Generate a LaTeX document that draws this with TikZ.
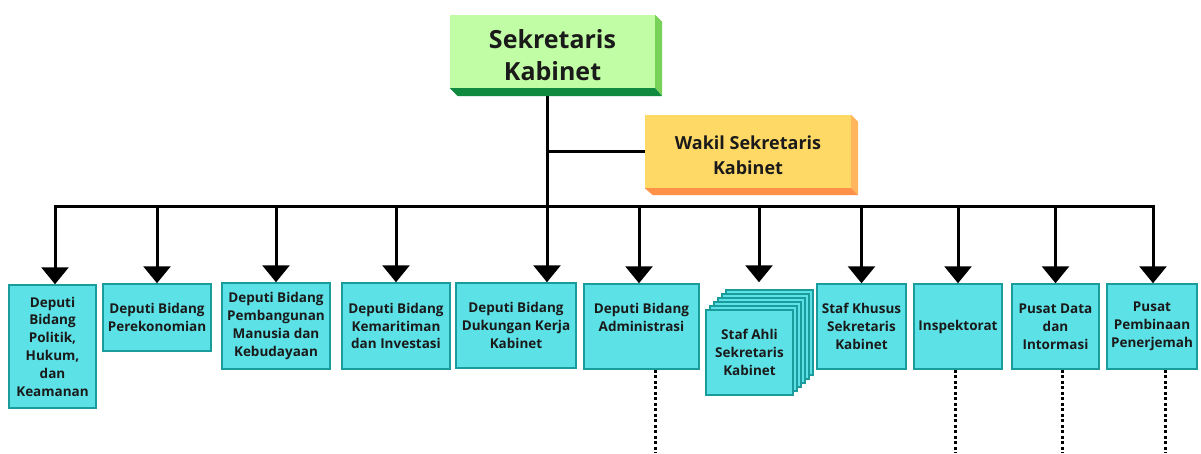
\documentclass[tikz,border=0pt]{standalone}
\usepackage{fontspec}
\setmainfont{Open Sans}
\usetikzlibrary{arrows.meta}

\definecolor{unitfill}{HTML}{5CE1E6}
\definecolor{unitline}{HTML}{1B9C9C}
\definecolor{sekfront}{HTML}{C1FDA4}
\definecolor{sekside}{HTML}{78D257}
\definecolor{sekbottom}{HTML}{0F8A3E}
\definecolor{wakfront}{HTML}{FFD966}
\definecolor{wakside}{HTML}{FFB65C}
\definecolor{wakbottom}{HTML}{FF9248}
\definecolor{ink}{HTML}{1A1A1A}

\tikzset{
  unit box/.style={draw=unitline, fill=unitfill, line width=1.5pt,
    align=center, inner sep=0pt, text=ink,
    font=\bfseries\fontsize{13.5}{17.8}\selectfont},
  head box/.style={inner sep=0pt, align=center, text=ink},
  link/.style={line width=3pt},
  branch/.style={link, -{Triangle[width=27pt,length=17pt]}},
  trail/.style={line width=3pt, dash pattern=on 3pt off 2.5pt},
}

\begin{document}
\begin{tikzpicture}[x=1pt, y=-1pt]
  \useasboundingbox (0,0) rectangle (1201,453);

  % connectors
  \coordinate (spine top) at (547,96);
  \coordinate (hub) at (547,206);
  \coordinate (bus left) at (55,206);
  \coordinate (bus right) at (1153,206);

  \draw [link] (spine top) -- (hub);
  \draw [link, line cap=rect] (bus left) -- (bus right);

  % top boxes
  \node (sekretaris) [head box, fill=sekfront, minimum width=205, minimum height=73,
    font=\bfseries\fontsize{25}{32}\selectfont] at (552.5,51.5)
    {\rule{0pt}{27pt}Sekretaris\\Kabinet};
  \fill [sekside]
    (sekretaris.north east) -- ++(7,7) -- ++(0,74) -- (sekretaris.south east) -- cycle;
  \fill [sekbottom]
    (sekretaris.south west) -- ++(8,8)
    -- ([shift={(7,8)}]sekretaris.south east) -- (sekretaris.south east) -- cycle;

  \node (wakil) [head box, fill=wakfront, minimum width=206, minimum height=73,
    font=\bfseries\fontsize{18}{25}\selectfont] at (748,151.5)
    {\rule{0pt}{21pt}Wakil Sekretaris\\Kabinet};
  \fill [wakside]
    (wakil.north east) -- ++(7,7) -- ++(0,73) -- (wakil.south east) -- cycle;
  \fill [wakbottom]
    (wakil.south west) -- ++(8,7)
    -- ([shift={(7,7)}]wakil.south east) -- (wakil.south east) -- cycle;

  \draw [link] (hub |- wakil.west) -- (wakil.west);

  % units
  \node (politik) [unit box, minimum width=87, minimum height=123] at (52.5,346.5)
    {Deputi\\Bidang\\Politik,\\Hukum,\\dan\\Keamanan};
  \node (perekonomian) [unit box, minimum width=108, minimum height=67] at (157,317.5)
    {Deputi Bidang\\Perekonomian};
  \node (pembangunan) [unit box, minimum width=108, minimum height=86] at (276,326)
    {Deputi Bidang\\Pembangunan\\Manusia dan\\Kebudayaan};
  \node (kemaritiman) [unit box, minimum width=108, minimum height=86] at (396,326)
    {Deputi Bidang\\Kemaritiman\\dan Investasi};
  \node (dukungan) [unit box, minimum width=120, minimum height=85] at (516,325.5)
    {Deputi Bidang\\Dukungan Kerja\\Kabinet};
  \node (administrasi) [unit box, minimum width=115, minimum height=85] at (641.5,326.5)
    {Deputi Bidang\\Administrasi\\\mbox{}};

  % staf ahli, a stack of sheets
  \node (staf ahli back) [unit box, minimum width=87, minimum height=85] at (769.5,332.5) {};
  \draw [unit box] (722,294) rectangle ++(87,85);
  \draw [unit box] (718,298) rectangle ++(87,85);
  \draw [unit box] (714,302) rectangle ++(87,85);
  \draw [unit box] (710,306) rectangle ++(87,85);
  \node (staf ahli) [unit box, minimum width=87, minimum height=85] at (749.5,352.5)
    {Staf Ahli\\Sekretaris\\Kabinet};

  \node (staf khusus) [unit box, minimum width=89, minimum height=85] at (861.5,326.5)
    {Staf Khusus\\Sekretaris\\Kabinet};
  \node (inspektorat) [unit box, minimum width=88, minimum height=85] at (958,326.5)
    {Inspektorat};
  \node (pusat data) [unit box, minimum width=87, minimum height=85] at (1055.5,326.5)
    {Pusat Data\\dan\\Intormasi};
  \node (pembinaan) [unit box, minimum width=90, minimum height=85] at (1152,326.5)
    {Pusat\\Pembinaan\\Penerjemah};

  % arrows down from the bus
  \draw [branch] (bus left) -- (politik.north -| bus left);
  \draw [branch] (perekonomian |- hub) -- (perekonomian.north);
  \draw [branch] (pembangunan |- hub) -- (pembangunan.north);
  \draw [branch] (kemaritiman |- hub) -- (kemaritiman.north);
  \draw [branch] (hub) -- (dukungan.north -| hub);
  \draw [branch] (639,206) -- (administrasi.north -| 639,0);
  \draw [branch, shorten >=7pt] (759,206) -- (staf ahli back.north -| 759,0);
  \draw [branch] (staf khusus |- hub) -- (staf khusus.north);
  \draw [branch] (inspektorat |- hub) -- (inspektorat.north);
  \draw [branch] (pusat data |- hub) -- (pusat data.north);
  \draw [branch] (bus right) -- (pembinaan.north -| bus right);

  % dotted lines running off the page
  \draw [trail] (administrasi.south -| 655,0) -- (655,453);
  \draw [trail] (inspektorat.south -| 955,0) -- (955,453);
  \draw [trail] (pusat data.south -| 1062,0) -- (1062,453);
  \draw [trail] (pembinaan.south -| 1165,0) -- (1165,453);
\end{tikzpicture}
\end{document}
